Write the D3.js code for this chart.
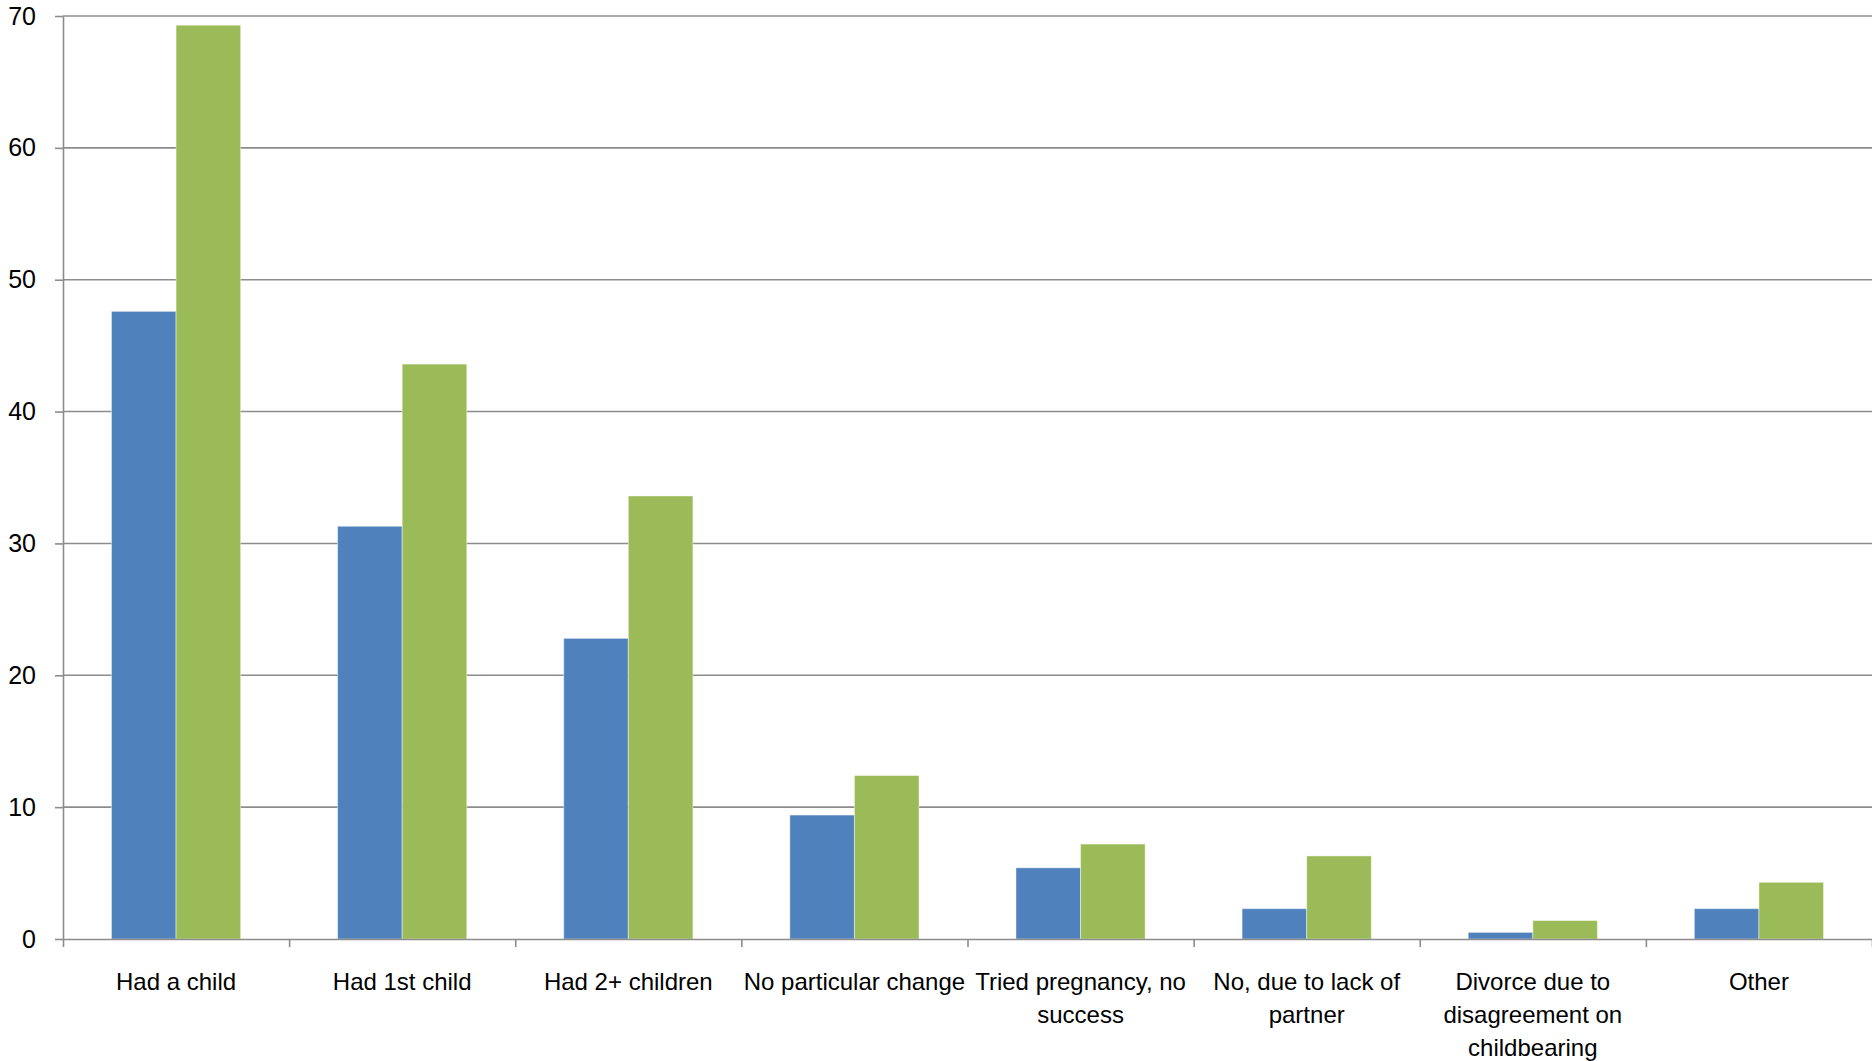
<!DOCTYPE html>
<html>
<head>
<meta charset="utf-8">
<script src="https://cdn.jsdelivr.net/npm/d3@7"></script>
<style>
  body { margin: 0; background: #ffffff; }
  svg { display: block; font-family: "Liberation Sans", Arial, sans-serif; }
</style>
</head>
<body>
<svg width="1872" height="1061"></svg>
<script>
// chart data
var categories = [
  "Had a child",
  "Had 1st child",
  "Had 2+ children",
  "No particular change",
  "Tried pregnancy, no success",
  "No, due to lack of partner",
  "Divorce due to disagreement on childbearing",
  "Other"
];
// how the tick labels wrap under each category
var labelLines = [
  ["Had a child"],
  ["Had 1st child"],
  ["Had 2+ children"],
  ["No particular change"],
  ["Tried pregnancy, no", "success"],
  ["No, due to lack of", "partner"],
  ["Divorce due to", "disagreement on", "childbearing"],
  ["Other"]
];
var series1Values = [47.6, 31.3, 22.8, 9.4, 5.4, 2.3, 0.5, 2.3];
var series2Values = [69.3, 43.6, 33.6, 12.4, 7.2, 6.3, 1.4, 4.3];
var yTicks = [0, 10, 20, 30, 40, 50, 60, 70];

const SVG_WIDTH = 1872;
const SVG_HEIGHT = 1061;
const LEFT_PADDING = 63;
const RIGHT_PADDING = 0;
const TOP_PADDING = 16;
const BOTTOM_PADDING = 122;
const GRID_COLOR = "#8c8c8c";
const SERIES_COLORS = ["#4f81bd", "#9bbb59"];

var x_scale, x_inner, y_scale;

function build_scales() {
  // excel style: gap width 150% between groups
  x_scale = d3
    .scaleBand()
    .domain(categories)
    .range([LEFT_PADDING, SVG_WIDTH - RIGHT_PADDING])
    .paddingInner(1.5 / 3.5)
    .paddingOuter(0.75 / 3.5);
  x_inner = d3
    .scaleBand()
    .domain([0, 1])
    .range([0, x_scale.bandwidth()]);
  y_scale = d3
    .scaleLinear()
    .domain([0, 70])
    .range([SVG_HEIGHT - BOTTOM_PADDING, TOP_PADDING]);
}

function draw_grid() {
  d3.select("svg")
    .append("g")
    .attr("id", "grid")
    .selectAll("line")
    .data(yTicks.filter((d) => d > 0))
    .enter()
    .append("line")
    .attr("x1", LEFT_PADDING)
    .attr("x2", SVG_WIDTH - RIGHT_PADDING)
    .attr("y1", (d) => y_scale(d))
    .attr("y2", (d) => y_scale(d))
    .attr("stroke", GRID_COLOR)
    .attr("stroke-width", 1.6);
}

function draw_bars() {
  var rows = categories.map((c, i) => ({
    cat: c,
    vals: [series1Values[i], series2Values[i]]
  }));
  var groups = d3
    .select("svg")
    .append("g")
    .attr("id", "bars")
    .selectAll("g")
    .data(rows)
    .enter()
    .append("g")
    .attr("transform", (d) => "translate(" + x_scale(d.cat) + ",0)");
  groups
    .selectAll("rect")
    .data((d) => d.vals)
    .enter()
    .append("rect")
    .attr("x", (d, i) => x_inner(i))
    .attr("width", x_inner.bandwidth())
    .attr("y", (d) => y_scale(d))
    .attr("height", (d) => y_scale(0) - y_scale(d))
    .attr("fill", (d, i) => SERIES_COLORS[i])
    .attr("stroke", "rgba(255,255,255,0.45)")
    .attr("stroke-width", 1);
}

function build_yaxis() {
  var yAxis = d3
    .axisLeft(y_scale)
    .tickValues(yTicks)
    .tickSize(8)
    .tickSizeOuter(0)
    .tickPadding(19);
  var g = d3
    .select("svg")
    .append("g")
    .attr("transform", "translate(" + LEFT_PADDING + ",0)")
    .attr("id", "yaxis")
    .call(yAxis);
  g.selectAll("path, line").attr("stroke", GRID_COLOR).attr("stroke-width", 1.6);
  g.selectAll("text")
    .attr("fill", "#000")
    .style("font-size", "25px")
    .style("font-family", "Liberation Sans, Arial, sans-serif");
}

function build_xaxis() {
  var base = SVG_HEIGHT - BOTTOM_PADDING;
  // ticks sit on the category boundaries
  var edge_scale = d3
    .scaleLinear()
    .domain([0, categories.length])
    .range([LEFT_PADDING, SVG_WIDTH - RIGHT_PADDING]);
  var xAxis = d3
    .axisBottom(edge_scale)
    .tickValues(d3.range(0, categories.length + 1))
    .tickSize(8)
    .tickSizeOuter(0)
    .tickFormat("");
  var g = d3
    .select("svg")
    .append("g")
    .attr("transform", "translate(0," + base + ")")
    .attr("id", "xaxis")
    .call(xAxis);
  g.selectAll("path, line").attr("stroke", GRID_COLOR).attr("stroke-width", 1.6);

  // labels at the band centres
  var labelAxis = d3.axisBottom(x_scale).tickSize(0).tickPadding(0);
  var lg = d3
    .select("svg")
    .append("g")
    .attr("transform", "translate(0," + base + ")")
    .attr("id", "xlabels")
    .call(labelAxis);
  lg.select(".domain").remove();
  lg.selectAll("text")
    .attr("fill", "#000")
    .attr("y", 0)
    .attr("dy", null)
    .style("font-size", "24px")
    .style("font-family", "Liberation Sans, Arial, sans-serif")
    .text(null)
    .each(function (d, i) {
      var t = d3.select(this);
      labelLines[i].forEach((line, k) => {
        t.append("tspan")
          .attr("x", 0)
          .attr("y", 51 + k * 33)
          .text(line);
      });
    });
}

build_scales();
draw_grid();
draw_bars();
build_yaxis();
build_xaxis();
</script>
</body>
</html>
